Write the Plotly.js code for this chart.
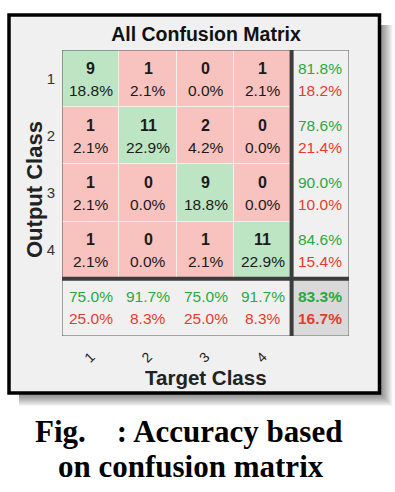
<!DOCTYPE html>
<html>
<head>
<meta charset="utf-8">
<script src="https://cdn.plot.ly/plotly-3.0.1.min.js"></script>
<style>html,body{margin:0;padding:0;background:#fff;}#chart{width:395px;height:492px;}</style>
</head>
<body>
<div id="chart"></div>
<script>
// ---- data ----
const classes = ['1', '2', '3', '4'];
const counts = [
  [9, 1, 0, 1],
  [1, 11, 2, 0],
  [1, 0, 9, 0],
  [1, 0, 1, 11]
];
const cellPct = [
  ['18.8%', '2.1%', '0.0%', '2.1%'],
  ['2.1%', '22.9%', '4.2%', '0.0%'],
  ['2.1%', '0.0%', '18.8%', '0.0%'],
  ['2.1%', '0.0%', '2.1%', '22.9%']
];
const rowCorrect = ['81.8%', '78.6%', '90.0%', '84.6%'];
const rowWrong = ['18.2%', '21.4%', '10.0%', '15.4%'];
const colCorrect = ['75.0%', '91.7%', '75.0%', '91.7%'];
const colWrong = ['25.0%', '8.3%', '25.0%', '8.3%'];
const totalCorrect = '83.3%';
const totalWrong = '16.7%';
const chartTitle = 'All Confusion Matrix';
const xTitle = 'Target Class';
const yTitle = 'Output Class';
const captionLine1 = 'Fig.\u00a0\u00a0\u00a0\u00a0: Accuracy based';
const captionLine2 = 'on confusion matrix';

// ---- styling ----
const GREEN_FILL = '#bde5c4', RED_FILL = '#f8c2be', GRAY_FILL = '#f0f0f0', DARK_FILL = '#d9d9d9';
const GREEN_TXT = '#2aa845', RED_TXT = '#e63b2e', TXT = '#1a1a1a';
const SANS = 'Liberation Sans, Arial, sans-serif';
const SERIF = 'Liberation Serif, Times New Roman, serif';

// plot area in pixels
const L = 62, R = 349, T = 50, B = 336, W = 395, H = 492;
const px = x => (x - L) / (R - L);
const py = y => (B - y) / (B - T);

const n = classes.length;
const idx = [];
for (let i = 1; i <= n + 1; i++) idx.push(i);

// category for colouring: 0 wrong, 1 correct, 2 summary, 3 overall
const z = [];
for (let r = 0; r <= n; r++) {
  const row = [];
  for (let c = 0; c <= n; c++) {
    if (r === n && c === n) row.push(3);
    else if (r === n || c === n) row.push(2);
    else row.push(r === c ? 1 : 0);
  }
  z.push(row);
}

const heat = {
  type: 'heatmap',
  x: idx, y: idx, z: z,
  zmin: 0, zmax: 3,
  colorscale: [[0, RED_FILL], [0.1667, RED_FILL], [0.1667, GREEN_FILL], [0.5, GREEN_FILL],
               [0.5, GRAY_FILL], [0.8333, GRAY_FILL], [0.8333, DARK_FILL], [1, DARK_FILL]],
  showscale: false, xgap: 1, ygap: 1, hoverinfo: 'skip'
};

const ann = [];
function cellText(c, r, top, bottom, topFont, bottomFont) {
  ann.push({x: c, y: r, xref: 'x', yref: 'y', text: top, showarrow: false, yshift: 10.5,
    xanchor: 'center', yanchor: 'middle', font: topFont});
  ann.push({x: c, y: r, xref: 'x', yref: 'y', text: bottom, showarrow: false, yshift: -11.5,
    xanchor: 'center', yanchor: 'middle', font: bottomFont});
}
for (let r = 0; r < n; r++) {
  for (let c = 0; c < n; c++) {
    cellText(c + 1, r + 1, '<b>' + counts[r][c] + '</b>', cellPct[r][c],
      {family: SANS, size: 16, color: TXT}, {family: SANS, size: 15.5, color: TXT});
  }
  cellText(n + 1, r + 1, rowCorrect[r], rowWrong[r],
    {family: SANS, size: 15.5, color: GREEN_TXT}, {family: SANS, size: 15.5, color: RED_TXT});
}
for (let c = 0; c < n; c++) {
  cellText(c + 1, n + 1, colCorrect[c], colWrong[c],
    {family: SANS, size: 15.5, color: GREEN_TXT}, {family: SANS, size: 15.5, color: RED_TXT});
}
cellText(n + 1, n + 1, '<b>' + totalCorrect + '</b>', '<b>' + totalWrong + '</b>',
  {family: SANS, size: 15.5, color: GREEN_TXT}, {family: SANS, size: 15.5, color: RED_TXT});

// axis titles and caption
function paperText(x, y, text, font, angle) {
  ann.push({xref: 'paper', yref: 'paper', x: px(x), y: py(y), text: text, textangle: angle || 0,
    xanchor: 'center', yanchor: 'middle', showarrow: false, font: font});
}
paperText(34, 190, '<b>' + yTitle + '</b>', {family: SANS, size: 22, color: '#222'}, -90);
paperText(206, 377, '<b>' + xTitle + '</b>', {family: SANS, size: 20.5, color: '#222'});
paperText(188, 431, '<b>' + captionLine1 + '</b>', {family: SERIF, size: 31, color: '#000'});
paperText(191, 467, '<b>' + captionLine2 + '</b>', {family: SERIF, size: 31, color: '#000'});

// frame with soft shadow
const shapes = [];
const fx0 = 9, fx1 = 379.5, fy0 = 15, fy1 = 393;
for (let k = 2; k <= 13; k++) {
  shapes.push({type: 'rect', xref: 'paper', yref: 'paper', layer: 'below',
    x0: px(fx0 + 10), x1: px(fx1 + k), y0: py(fy0 + 10), y1: py(fy1 + k),
    line: {width: 0}, fillcolor: 'rgba(0,0,0,0.045)'});
}
shapes.push({type: 'rect', xref: 'paper', yref: 'paper', layer: 'below',
  x0: px(fx0), x1: px(fx1), y0: py(fy0), y1: py(fy1),
  line: {width: 3.5, color: '#000'}, fillcolor: '#f0f0f0'});
// grid outline and thick separators
shapes.push({type: 'rect', xref: 'x', yref: 'y', x0: 0.5, x1: n + 1.5, y0: 0.5, y1: n + 1.5,
  line: {width: 1, color: '#555'}, layer: 'above'});
shapes.push({type: 'line', xref: 'x', yref: 'y', x0: n + 0.5, x1: n + 0.5, y0: 0.5, y1: n + 1.5,
  line: {width: 4, color: '#3c3c3c'}, layer: 'above'});
shapes.push({type: 'line', xref: 'x', yref: 'y', x0: 0.5, x1: n + 1.5, y0: n + 0.5, y1: n + 0.5,
  line: {width: 4, color: '#3c3c3c'}, layer: 'above'});

const layout = {
  width: W, height: H,
  margin: {l: L, r: W - R, t: T, b: H - B, pad: 0},
  paper_bgcolor: '#ffffff', plot_bgcolor: '#555555',
  showlegend: false,
  title: {text: '<b>' + chartTitle + '</b>', font: {family: SANS, size: 19.5, color: '#111'},
    xref: 'paper', x: px(206), xanchor: 'center', yref: 'container', y: 1 - 34.5 / H, yanchor: 'middle'},
  xaxis: {range: [0.5, n + 1.5], tickvals: [1, 2, 3, 4], ticktext: classes, tickangle: -45,
    showgrid: false, zeroline: false, showline: false, ticks: '', fixedrange: true,
    ticklabelstandoff: 9, tickfont: {family: SANS, size: 14, color: '#222'}},
  yaxis: {range: [n + 1.5, 0.5], tickvals: [1, 2, 3, 4], ticktext: classes,
    showgrid: false, zeroline: false, showline: false, ticks: '', fixedrange: true,
    ticklabelstandoff: 6, tickfont: {family: SANS, size: 15, color: '#333'}},
  annotations: ann,
  shapes: shapes
};

Plotly.newPlot('chart', [heat], layout, {displayModeBar: false, staticPlot: true});
</script>
</body>
</html>
